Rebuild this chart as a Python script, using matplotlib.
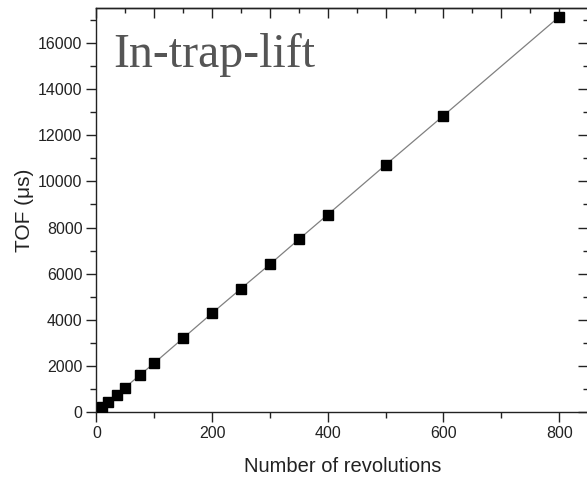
import matplotlib
matplotlib.use("Agg")
import matplotlib.pyplot as plt
from matplotlib.ticker import MultipleLocator, NullFormatter

# revolutions vs time of flight
revolutions = [10, 20, 35, 50, 75, 100, 150, 200, 250, 300, 350, 400, 500, 600, 800]
tof_us = [216, 450, 764, 1080, 1615, 2134, 3214, 4294, 5356, 6410, 7490, 8560, 10710, 12840, 17120]

plt.rcParams['font.family'] = ['Liberation Sans', 'DejaVu Sans']
ink = '#222222'

fig = plt.figure(figsize=(5.87, 4.84), dpi=100)
ax = fig.add_axes([0.1641, 0.1478, 0.8377, 0.8357])

ax.plot(revolutions, tof_us, color='#808080', linewidth=0.9, zorder=2)
ax.plot(revolutions, tof_us, linestyle='none', marker='s', markersize=6.5,
        color='black', zorder=3)

ax.set_xlim(0, 850)
ax.set_ylim(0, 17500)
ax.xaxis.set_major_locator(MultipleLocator(200))
ax.xaxis.set_minor_locator(MultipleLocator(100))
ax.yaxis.set_major_locator(MultipleLocator(2000))
ax.yaxis.set_minor_locator(MultipleLocator(1000))
ax.tick_params(which='major', direction='out', length=7, width=1, pad=3,
               labelsize=11.5, colors=ink)
ax.tick_params(which='minor', direction='out', length=4, width=1, colors=ink)

# inward ticks on the top and right edges, no labels
top = ax.secondary_xaxis('top')
top.xaxis.set_major_locator(MultipleLocator(100))
top.xaxis.set_minor_locator(MultipleLocator(50))
top.xaxis.set_major_formatter(NullFormatter())
top.tick_params(which='major', direction='in', length=7, width=1, colors=ink)
top.tick_params(which='minor', direction='in', length=3.5, width=1, colors=ink)

right = ax.secondary_yaxis('right')
right.yaxis.set_major_locator(MultipleLocator(2000))
right.yaxis.set_minor_locator(MultipleLocator(1000))
right.yaxis.set_major_formatter(NullFormatter())
right.tick_params(which='major', direction='in', length=7, width=1, colors=ink)
right.tick_params(which='minor', direction='in', length=3.5, width=1, colors=ink)

for a in (ax, top, right):
    for s in a.spines.values():
        s.set_linewidth(1.0)
        s.set_color(ink)
# right frame edge falls off the canvas
ax.spines['right'].set_visible(False)
right.spines['right'].set_visible(False)

ax.set_xlabel('Number of revolutions', fontsize=14.5, color=ink, labelpad=11)
ax.set_ylabel('TOF (\u03bcs)', fontsize=15, color=ink, labelpad=3)

ax.text(0.035, 0.854, 'In-trap-lift', transform=ax.transAxes,
        fontsize=34.5, family='Liberation Serif', color='#555555', va='baseline')

fig.savefig('out.png', dpi=100)
